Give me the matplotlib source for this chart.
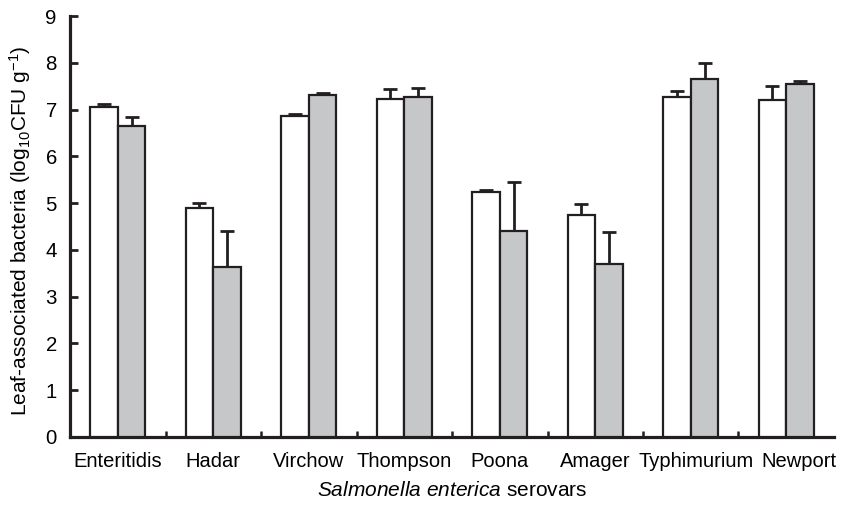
import numpy as np
import matplotlib
matplotlib.use('Agg')
import matplotlib.pyplot as plt
import matplotlib.transforms as mtransforms

serovars = ['Enteritidis', 'Hadar', 'Virchow', 'Thompson', 'Poona', 'Amager', 'Typhimurium', 'Newport']
white_vals = [7.05, 4.90, 6.86, 7.23, 5.23, 4.75, 7.27, 7.20]
white_err = [0.07, 0.10, 0.04, 0.21, 0.06, 0.23, 0.12, 0.31]
grey_vals = [6.64, 3.63, 7.31, 7.26, 4.41, 3.70, 7.65, 7.54]
grey_err = [0.20, 0.77, 0.04, 0.20, 1.04, 0.68, 0.35, 0.07]

plt.rcParams['font.family'] = ['Liberation Sans', 'DejaVu Sans']
plt.rcParams['mathtext.fontset'] = 'custom'
plt.rcParams['mathtext.rm'] = 'Liberation Sans'
plt.rcParams['mathtext.it'] = 'Liberation Sans:italic'

dark = '#231f20'
fig = plt.figure(figsize=(8.45, 5.09), dpi=100)
ax = fig.add_axes([70 / 845, 72 / 509, 764 / 845, 421 / 509])

x = np.arange(len(serovars))
w = 0.29
kw = dict(edgecolor=dark, linewidth=1.6, zorder=3)
ax.bar(x - w / 2, white_vals, w, color='white', **kw)
ax.bar(x + w / 2, grey_vals, w, color='#c6c7c9', **kw)
ax.errorbar(x - w / 2, white_vals, yerr=[np.zeros(len(x)), white_err], fmt='none',
            ecolor=dark, elinewidth=2, capsize=5, capthick=2, zorder=2)
ax.errorbar(x + w / 2, grey_vals, yerr=[np.zeros(len(x)), grey_err], fmt='none',
            ecolor=dark, elinewidth=2, capsize=5, capthick=2, zorder=2)

ax.set_xlim(-0.5, 7.5)
ax.set_ylim(0, 9)
ax.set_yticks(range(10))
ax.set_xticks(x)
ax.set_xticklabels(serovars, fontsize=14.5)
ax.set_xticks(x[:-1] + 0.5, minor=True)
ax.tick_params(axis='x', which='major', length=0, pad=11)
ax.tick_params(axis='x', which='minor', direction='in', length=4, width=1.8, color=dark)
ax.tick_params(axis='y', direction='in', length=5.5, width=2, color=dark, labelsize=14.7, pad=9.5)
for s in ['top', 'right']:
    ax.spines[s].set_visible(False)
for s in ['left', 'bottom']:
    ax.spines[s].set_linewidth(2.3)
    ax.spines[s].set_color(dark)

# the last two labels sit a little to the right in the original
shifts = {'Typhimurium': 5, 'Newport': 13}
for lab in ax.get_xticklabels():
    dx = shifts.get(lab.get_text(), 0)
    if dx:
        lab.set_transform(lab.get_transform() +
                          mtransforms.ScaledTranslation(dx / 100, 0, fig.dpi_scale_trans))

fig.text(452 / 845, 1 - 496 / 509, r'$\it{Salmonella\ enterica}$ serovars', fontsize=15,
         ha='center', va='baseline')
fig.text(20 / 845, 1 - 231 / 509, r'Leaf-associated bacteria (log$_{10}$CFU g$^{-1}$)',
         fontsize=15, rotation=90, ha='center', va='center')

fig.savefig('out.png', dpi=100)
